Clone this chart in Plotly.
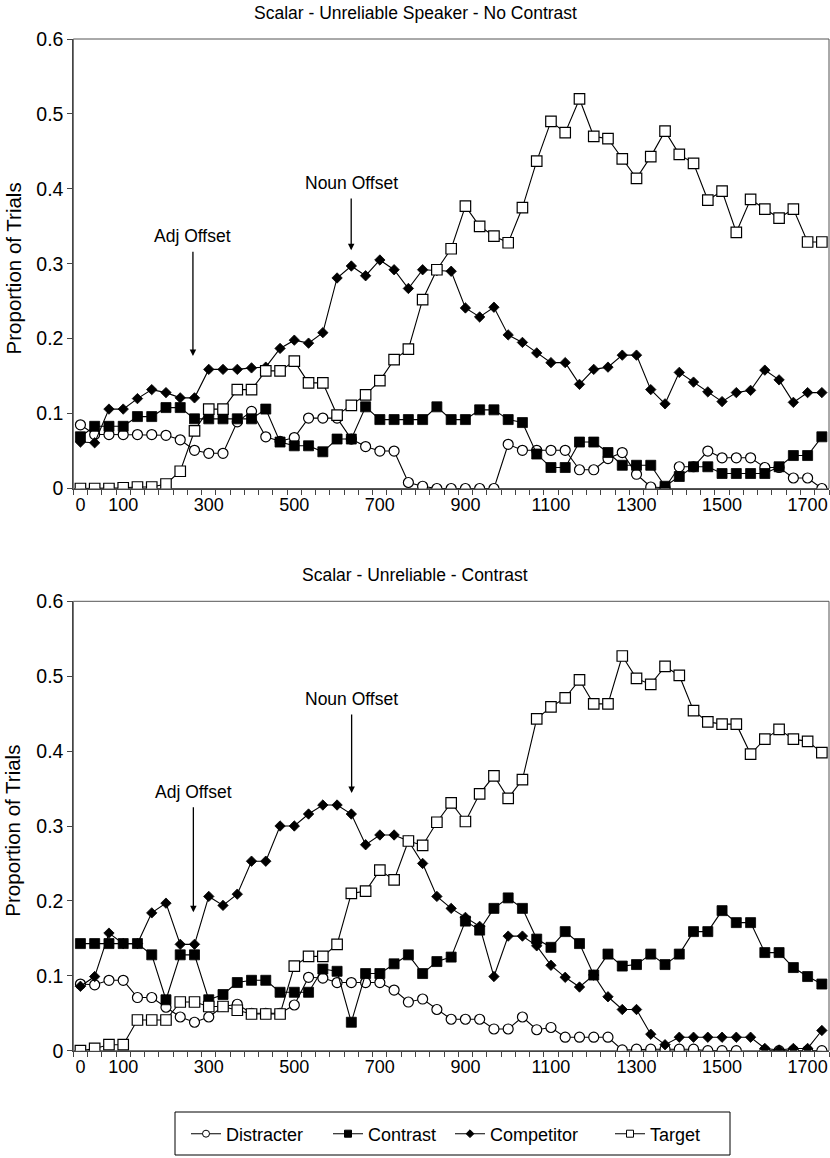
import plotly.graph_objects as go

# ---------------- data ----------------
times = [0, 33.3, 66.7, 100, 133.3, 166.7, 200, 233.3, 266.7, 300, 333.3, 366.7, 400,
         433.3, 466.7, 500, 533.3, 566.7, 600, 633.3, 666.7, 700, 733.3, 766.7, 800,
         833.3, 866.7, 900, 933.3, 966.7, 1000, 1033.3, 1066.7, 1100, 1133.3, 1166.7,
         1200, 1233.3, 1266.7, 1300, 1333.3, 1366.7, 1400, 1433.3, 1466.7, 1500, 1533.3,
         1566.7, 1600, 1633.3, 1666.7, 1700, 1733.3]

tick_vals = [0, 100, 300, 500, 700, 900, 1100, 1300, 1500, 1700]
tick_text = ["0", "100", "300", "500", "700", "900", "1100", "1300", "1500", "1700"]

# Panel 1: Scalar - Unreliable Speaker - No Contrast
p1_distracter = [0.085, 0.072, 0.072, 0.072, 0.072, 0.072, 0.071, 0.065, 0.051, 0.047,
                 0.047, 0.089, 0.103, 0.069, 0.063, 0.068, 0.094, 0.094, 0.094, 0.066,
                 0.056, 0.050, 0.050, 0.008, 0.003, 0.0, 0.0, 0.0, 0.0, 0.0,
                 0.059, 0.051, 0.051, 0.051, 0.051, 0.025, 0.025, 0.040, 0.048, 0.019,
                 0.002, 0.001, 0.029, 0.029, 0.050, 0.041, 0.041, 0.041, 0.028, 0.028,
                 0.014, 0.014, 0.0]
p1_contrast = [0.069, 0.083, 0.083, 0.083, 0.096, 0.096, 0.108, 0.108, 0.093, 0.093,
               0.093, 0.093, 0.093, 0.106, 0.062, 0.057, 0.057, 0.049, 0.066, 0.066,
               0.109, 0.092, 0.092, 0.092, 0.092, 0.109, 0.092, 0.092, 0.105, 0.105,
               0.092, 0.088, 0.046, 0.028, 0.028, 0.062, 0.062, 0.048, 0.031, 0.031,
               0.031, 0.003, 0.016, 0.029, 0.029, 0.020, 0.020, 0.020, 0.020, 0.029,
               0.044, 0.044, 0.069]
p1_competitor = [0.062, 0.061, 0.106, 0.106, 0.120, 0.132, 0.128, 0.121, 0.121, 0.159,
                 0.159, 0.159, 0.161, 0.162, 0.187, 0.198, 0.194, 0.208, 0.281, 0.297,
                 0.284, 0.305, 0.292, 0.267, 0.292, 0.291, 0.290, 0.241, 0.229, 0.242,
                 0.205, 0.195, 0.181, 0.168, 0.168, 0.139, 0.159, 0.162, 0.178, 0.178,
                 0.132, 0.113, 0.155, 0.142, 0.129, 0.116, 0.128, 0.131, 0.158, 0.145,
                 0.115, 0.128, 0.128]
p1_target = [0.0, 0.0, 0.0, 0.001, 0.002, 0.002, 0.006, 0.023, 0.077, 0.106,
             0.106, 0.132, 0.132, 0.157, 0.157, 0.170, 0.141, 0.141, 0.098, 0.111,
             0.125, 0.144, 0.172, 0.186, 0.252, 0.292, 0.320, 0.377, 0.350, 0.337,
             0.328, 0.375, 0.437, 0.490, 0.475, 0.520, 0.470, 0.467, 0.440, 0.414,
             0.443, 0.477, 0.446, 0.434, 0.385, 0.397, 0.342, 0.386, 0.373, 0.361,
             0.373, 0.329, 0.329]

# Panel 2: Scalar - Unreliable - Contrast
p2_distracter = [0.089, 0.088, 0.094, 0.094, 0.071, 0.071, 0.058, 0.045, 0.038, 0.045,
                 0.059, 0.062, 0.050, 0.050, 0.050, 0.061, 0.098, 0.097, 0.091, 0.091,
                 0.091, 0.091, 0.081, 0.065, 0.069, 0.055, 0.042, 0.042, 0.042, 0.029,
                 0.029, 0.045, 0.028, 0.031, 0.018, 0.018, 0.018, 0.018, 0.001, 0.002,
                 0.002, 0.002, 0.002, 0.002, 0.0, 0.0, 0.0, None, 0.0, 0.0,
                 0.0, 0.0, 0.0]
p2_contrast = [0.143, 0.143, 0.143, 0.143, 0.143, 0.128, 0.068, 0.128, 0.128, 0.068,
               0.075, 0.091, 0.094, 0.094, 0.078, 0.078, 0.078, 0.109, 0.106, 0.038,
               0.103, 0.103, 0.116, 0.128, 0.103, 0.119, 0.125, 0.173, 0.161, 0.190,
               0.204, 0.190, 0.149, 0.138, 0.159, 0.143, 0.101, 0.129, 0.113, 0.115,
               0.129, 0.115, 0.129, 0.159, 0.159, 0.187, 0.171, 0.171, 0.131, 0.131,
               0.111, 0.099, 0.089]
p2_competitor = [0.086, 0.099, 0.157, 0.143, 0.143, 0.184, 0.197, 0.142, 0.142, 0.206,
                 0.194, 0.209, 0.253, 0.253, 0.300, 0.300, 0.316, 0.328, 0.328, 0.316,
                 0.275, 0.288, 0.288, 0.280, 0.250, 0.206, 0.190, 0.178, 0.166, 0.099,
                 0.153, 0.153, 0.140, 0.114, 0.098, 0.085, 0.101, 0.072, 0.055, 0.055,
                 0.022, 0.008, 0.018, 0.018, 0.018, 0.018, 0.018, 0.018, 0.003, 0.001,
                 0.003, 0.003, 0.027]
p2_target = [0.0, 0.003, 0.008, 0.008, 0.041, 0.041, 0.041, 0.065, 0.065, 0.059,
             0.059, 0.054, 0.049, 0.049, 0.049, 0.113, 0.126, 0.126, 0.142, 0.210,
             0.213, 0.241, 0.228, 0.280, 0.274, 0.305, 0.331, 0.306, 0.343, 0.367,
             0.337, 0.362, 0.443, 0.459, 0.471, 0.495, 0.463, 0.463, 0.527, 0.497,
             0.489, 0.513, 0.501, 0.454, 0.439, 0.436, 0.436, 0.396, 0.416, 0.429,
             0.416, 0.413, 0.398]

series_names = ["Distracter", "Contrast", "Competitor", "Target"]
panel_titles = ["Scalar - Unreliable Speaker - No Contrast", "Scalar - Unreliable - Contrast"]
panels = [
    [p1_distracter, p1_contrast, p1_competitor, p1_target],
    [p2_distracter, p2_contrast, p2_competitor, p2_target],
]
# offsets: (label, x, arrow tail y, arrow tip y) per panel
offsets = [
    [("Adj Offset", 263, 0.318, 0.177), ("Noun Offset", 633, 0.389, 0.318)],
    [("Adj Offset", 264, 0.327, 0.185), ("Noun Offset", 634, 0.451, 0.344)],
]

# ---------------- style ----------------
W, H = 830, 1158
FONT = "Liberation Sans, Arial, Helvetica, sans-serif"
symbols = {"Distracter": ("circle", "white", 10), "Contrast": ("square", "black", 10),
           "Competitor": ("diamond", "black", 8), "Target": ("square", "white", 10.5)}
legend_sizes = {"Distracter": 7, "Contrast": 7, "Competitor": 6, "Target": 7}
legend_x_px = {"Distracter": 186, "Contrast": 328, "Competitor": 450, "Target": 610}

x_left, x_right = 73.3, 829.0
y_domains_px = [(39.0, 488.5), (601.3, 1050.7)]

fig = go.Figure()
minor_ticks = [t - 16.67 for t in times] + [1750.0]

for p, data in enumerate(panels):
    xa = "x" if p == 0 else "x2"
    ya = "y" if p == 0 else "y2"
    for name, vals in zip(series_names, data):
        sym, fill, size = symbols[name]
        fig.add_trace(go.Scatter(
            x=times, y=vals, mode="lines+markers", name=name,
            line=dict(color="black", width=1.1),
            marker=dict(symbol=sym, size=size, color=fill,
                        line=dict(color="black", width=1.2 if fill == "white" else 0.8)),
            xaxis=xa, yaxis=ya, showlegend=False, connectgaps=False,
        ))
    top_px, bot_px = y_domains_px[p]
    dom = [1 - bot_px / H, 1 - top_px / H]
    axis_common = dict(showline=True, linecolor="#444", linewidth=1, mirror=False,
                       showgrid=False, zeroline=False, automargin=False)
    fig.layout["xaxis" if p == 0 else "xaxis2"] = dict(
        axis_common, domain=[x_left / W, x_right / W], range=[-16.67, 1750],
        anchor=ya, tickmode="array", tickvals=tick_vals, ticktext=tick_text,
        ticks="", ticklen=0, tickfont=dict(family=FONT, size=18, color="black"),
        minor=dict(tickmode="array", tickvals=minor_ticks, ticks="outside",
                   ticklen=5, tickcolor="#444", tickwidth=1),
    )
    fig.layout["yaxis" if p == 0 else "yaxis2"] = dict(
        axis_common, domain=dom, range=[0, 0.6], anchor=xa,
        tickmode="array", tickvals=[0, 0.1, 0.2, 0.3, 0.4, 0.5, 0.6],
        ticktext=["0", "0.1", "0.2", "0.3", "0.4", "0.5", "0.6"],
        ticks="outside", ticklen=5, tickcolor="#444",
        tickfont=dict(family=FONT, size=19.5, color="black"),
    )
    # frame (top and right border)
    fig.add_shape(type="rect", xref="paper", yref="paper",
                  x0=x_left / W, x1=x_right / W, y0=dom[0], y1=dom[1],
                  line=dict(color="#555", width=1), layer="below")
    # panel title
    fig.add_annotation(text=panel_titles[p], xref="paper", yref="paper",
                       x=415 / W, y=1 - (top_px - 26) / H, showarrow=False,
                       font=dict(family=FONT, size=17.5, color="black"),
                       xanchor="center", yanchor="middle")
    # y title
    fig.add_annotation(text="Proportion of Trials", xref="paper", yref="paper",
                       x=13 / W, y=(dom[0] + dom[1]) / 2 - 0.004, textangle=-90, showarrow=False,
                       font=dict(family=FONT, size=20.5, color="black"),
                       xanchor="center", yanchor="middle")
    for label, xv, tail, tip in offsets[p]:
        fig.add_annotation(x=xv, y=tip, ax=xv, ay=tail, xref=xa, yref=ya,
                           axref=xa, ayref=ya, text="", showarrow=True,
                           arrowhead=2, arrowsize=1, arrowwidth=1.3, arrowcolor="black")
        fig.add_annotation(x=xv, y=tail, xref=xa, yref=ya, text=label, showarrow=False,
                           yanchor="bottom", yshift=2,
                           font=dict(family=FONT, size=17.5, color="black"))

# legend-only traces with small symbols, one legend per entry for exact spacing
legend_layouts = {}
for i, name in enumerate(series_names):
    sym, fill, _ = symbols[name]
    lg = "legend" if i == 0 else f"legend{i + 1}"
    fig.add_trace(go.Scatter(
        x=[None], y=[None], mode="lines+markers", name=name,
        line=dict(color="black", width=1.1),
        marker=dict(symbol=sym, size=legend_sizes[name], color=fill,
                    line=dict(color="black", width=1)),
        showlegend=True, legend=lg,
    ))
    legend_layouts[lg] = dict(x=legend_x_px[name] / W, y=1 - 1134 / H,
                              xanchor="left", yanchor="middle", borderwidth=0,
                              bgcolor="rgba(0,0,0,0)", font=dict(family=FONT, size=18),
                              itemwidth=30, orientation="h")

# legend frame
fig.add_shape(type="rect", xref="paper", yref="paper",
              x0=175 / W, x1=730 / W, y0=1 - 1155 / H, y1=1 - 1112 / H,
              line=dict(color="black", width=1))

fig.update_layout(
    width=W, height=H, margin=dict(l=0, r=0, t=0, b=0),
    paper_bgcolor="white", plot_bgcolor="white",
    font=dict(family=FONT, size=17, color="black"),
    showlegend=True,
    **legend_layouts,
)

fig.write_html("out.html", config={"displayModeBar": False},
               post_script="document.body.style.margin='0';")
